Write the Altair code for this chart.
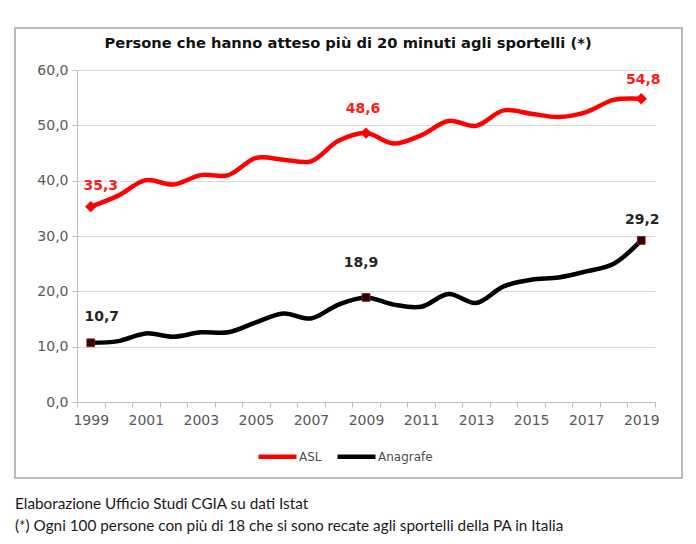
import altair as alt
import pandas as pd

years = list(range(1999, 2020))
asl = [35.3, 37.3, 40.1, 39.3, 41.0, 41.0, 44.1, 43.8, 43.5, 47.2, 48.6,
       46.7, 48.2, 50.8, 49.9, 52.7, 52.1, 51.5, 52.4, 54.6, 54.8]
anagrafe = [10.7, 11.0, 12.4, 11.8, 12.6, 12.6, 14.4, 16.0, 15.1, 17.6, 18.9,
            17.6, 17.2, 19.5, 17.9, 20.9, 22.1, 22.5, 23.6, 25.0, 29.2]
series_names = ["ASL", "Anagrafe"]
series_colors = ["#ff0000", "#000000"]
highlight_years = [1999, 2009, 2019]
y_ticks = [0, 10, 20, 30, 40, 50, 60]
title_text = "Persone che hanno atteso più di 20 minuti agli sportelli (*)"
footer_lines = [
    "Elaborazione Ufficio Studi CGIA su dati Istat",
    "(*) Ogni 100 persone con più di 18 che si sono recate agli sportelli della PA in Italia",
]

rows = []
for name, vals in zip(series_names, [asl, anagrafe]):
    for y, v in zip(years, vals):
        rows.append({"year": y, "serie": name, "value": v})
df = pd.DataFrame(rows)

AXIS_FONT = "DejaVu Sans"
GRAY = "#595959"

x_enc = alt.X(
    "year:O",
    scale=alt.Scale(type="band", paddingInner=0, paddingOuter=0),
    axis=alt.Axis(
        title=None, labelAngle=0, tickBand="extent", labelOverlap=False,
        labelExpr="toNumber(datum.value) % 2 == 1 ? datum.label : ''",
        labelFont=AXIS_FONT, labelFontSize=14, labelColor=GRAY, labelPadding=6,
        domainColor="#bfbfbf", tickColor="#bfbfbf", tickSize=5, grid=False,
    ),
)
y_enc = alt.Y(
    "value:Q",
    scale=alt.Scale(domain=[0, 60], nice=False),
    axis=alt.Axis(
        title=None, values=y_ticks,
        labelExpr="replace(format(datum.value, '.1f'), '.', ',')",
        labelFont=AXIS_FONT, labelFontSize=14, labelColor=GRAY, labelPadding=4,
        domainColor="#bfbfbf", tickColor="#bfbfbf", tickSize=5,
        grid=True, gridColor="#d9d9d9", gridWidth=1.2,
    ),
)

base = alt.Chart(df)

lines = base.mark_line(strokeWidth=4.5, interpolate="catmull-rom").encode(
    x=x_enc, y=y_enc,
    color=alt.Color(
        "serie:N",
        scale=alt.Scale(domain=series_names, range=series_colors),
        legend=alt.Legend(
            title=None, orient="none", direction="horizontal",
            legendX=179, legendY=365,
            symbolType="stroke", symbolSize=1444, symbolStrokeWidth=4.5,
            labelFont=AXIS_FONT, labelFontSize=12, labelColor="#4d4d4d",
            labelOffset=0, columnPadding=6,
        ),
    ),
)

hl = base.transform_filter(
    alt.FieldOneOfPredicate(field="year", oneOf=highlight_years)
)
asl_pts = hl.transform_filter(alt.datum.serie == "ASL").mark_point(
    shape="diamond", filled=True, color="#ff0000", size=130, opacity=1
).encode(x="year:O", y="value:Q")
ana_pts = hl.transform_filter(alt.datum.serie == "Anagrafe").mark_point(
    shape="square", filled=True, fill="#2a0505", stroke="#8b1a1a",
    strokeWidth=1, size=60, opacity=1
).encode(x="year:O", y="value:Q")


def label(serie, year, color, dx, dy):
    return hl.transform_filter(
        (alt.datum.serie == serie) & (alt.datum.year == year)
    ).transform_calculate(
        lab="replace(format(datum.value, '.1f'), '.', ',')"
    ).mark_text(
        font=AXIS_FONT, fontSize=14, fontWeight="bold", color=color,
        dx=dx, dy=dy, align="center", baseline="middle"
    ).encode(x="year:O", y="value:Q", text="lab:N")


labels = [
    label("ASL", 1999, "#ff1a1a", 10, -21),
    label("ASL", 2009, "#ff1a1a", -3, -24),
    label("ASL", 2019, "#ff1a1a", 2, -19),
    label("Anagrafe", 1999, "#262626", 11, -26),
    label("Anagrafe", 2009, "#262626", -5, -34),
    label("Anagrafe", 2019, "#262626", 1, -20),
]

one = pd.DataFrame({"t": [title_text], "f": ["\n".join(footer_lines)]})
frame = alt.Chart(one).mark_rect(
    fillOpacity=0, stroke="#a6a6a6", strokeWidth=1.5
).encode(x=alt.value(-62), x2=alt.value(605), y=alt.value(-42), y2=alt.value(408))

title = alt.Chart(one).mark_text(
    font=AXIS_FONT, fontSize=14.7, fontWeight="bold", color="#111111",
    align="center", baseline="middle"
).encode(x=alt.value(271), y=alt.value(-26), text="t:N")

footer = alt.Chart(one).mark_text(
    font="Lato", fontSize=15.3, color="#1a1a1a", align="left",
    baseline="middle", lineBreak="\n", lineHeight=22
).encode(x=alt.value(-62), y=alt.value(434), text="f:N")

chart = alt.layer(frame, lines, asl_pts, ana_pts, *labels, title, footer).properties(
    width=578, height=332,
    padding={"left": 6, "top": 19, "right": 5, "bottom": 5},
    background="white",
).configure_view(stroke=None)

chart.save("out.html", embed_options={"renderer": "svg", "actions": False})
